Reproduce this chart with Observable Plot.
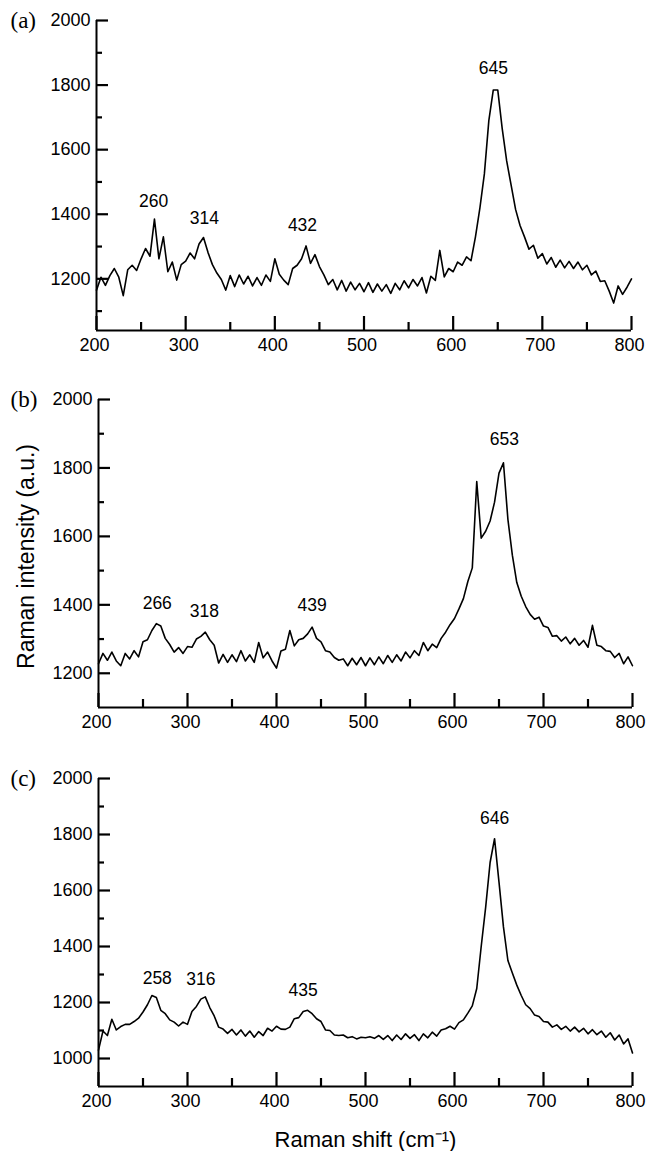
<!DOCTYPE html>
<html><head><meta charset="utf-8">
<script src="https://cdn.jsdelivr.net/npm/d3@7"></script>
<script src="https://cdn.jsdelivr.net/npm/@observablehq/plot@0.6"></script>
<style>
body{margin:0;background:#fff;width:647px;height:1151px;position:relative;overflow:hidden}
.p{position:absolute;left:0}
</style></head><body>
<div id="a" class="p" style="top:0"></div>
<div id="b" class="p" style="top:379px"></div>
<div id="c" class="p" style="top:758px"></div>
<script>
// Raman shift sampling (cm^-1)
const shift = [200,205,210,215,220,225,230,235,240,245,250,255,260,265,270,275,280,285,290,295,300,305,310,315,320,325,330,335,340,345,350,355,360,365,370,375,380,385,390,395,400,405,410,415,420,425,430,435,440,445,450,455,460,465,470,475,480,485,490,495,500,505,510,515,520,525,530,535,540,545,550,555,560,565,570,575,580,585,590,595,600,605,610,615,620,625,630,635,640,645,650,655,660,665,670,675,680,685,690,695,700,705,710,715,720,725,730,735,740,745,750,755,760,765,770,775,780,785,790,795,800];

// Raman intensity (a.u.), panel (a)
const intensityA = [
1165,1205,1180,1210,1232,1205,1148,1228,1242,1226,
1262,1294,1270,1385,1262,1330,1222,1252,1196,1244,
1255,1280,1262,1308,1328,1282,1244,1218,1198,1165,
1210,1176,1212,1184,1208,1178,1204,1180,1212,1192,
1262,1214,1196,1182,1232,1242,1262,1302,1248,1275,
1238,1212,1182,1198,1166,1195,1162,1190,1166,1186,
1160,1188,1158,1184,1162,1182,1155,1186,1166,1194,
1172,1198,1178,1204,1156,1208,1195,1288,1206,1232,
1222,1252,1242,1268,1256,1330,1420,1525,1690,1785,
1785,1665,1565,1490,1415,1365,1330,1292,1304,1264,
1278,1246,1266,1236,1258,1234,1254,1232,1252,1228,
1242,1212,1224,1192,1194,1162,1125,1178,1152,1174,
1200];

// panel (b)
const intensityB = [
1228,1258,1238,1262,1236,1222,1258,1242,1266,1248,
1292,1298,1325,1345,1338,1302,1284,1262,1275,1258,
1278,1276,1300,1308,1320,1298,1282,1230,1255,1232,
1254,1234,1266,1236,1254,1232,1290,1245,1262,1236,
1215,1265,1270,1325,1280,1298,1302,1315,1335,1302,
1292,1266,1262,1246,1238,1242,1222,1244,1225,1246,
1222,1245,1225,1248,1228,1252,1232,1254,1236,1262,
1245,1266,1252,1290,1266,1285,1275,1302,1320,1342,
1360,1388,1418,1468,1508,1760,1595,1615,1645,1700,
1785,1815,1650,1545,1465,1425,1395,1372,1358,1364,
1338,1334,1308,1310,1294,1306,1286,1302,1282,1296,
1276,1340,1282,1278,1266,1264,1246,1258,1228,1248,
1222];

// panel (c)
const intensityC = [
1030,1098,1082,1140,1102,1114,1122,1122,1132,1144,
1166,1192,1225,1218,1172,1160,1138,1130,1116,1130,
1122,1168,1186,1212,1220,1182,1152,1112,1105,1090,
1104,1084,1102,1080,1098,1076,1096,1082,1108,1098,
1115,1105,1104,1112,1142,1146,1168,1172,1160,1142,
1132,1102,1100,1084,1082,1084,1074,1078,1070,1076,
1074,1078,1072,1082,1068,1082,1064,1084,1068,1088,
1072,1085,1064,1088,1074,1094,1080,1102,1106,1115,
1105,1128,1138,1162,1188,1250,1400,1540,1700,1785,
1630,1470,1350,1305,1262,1225,1192,1178,1155,1150,
1132,1130,1112,1120,1104,1115,1098,1112,1095,1108,
1088,1103,1085,1098,1076,1092,1066,1084,1052,1070,
1020];

// peak annotations
const peaksA = ["260","314","432","645"];
const peakShiftA = [264,321,431,645];
const peakLevelA = [1439,1386,1364,1852];
const peaksB = ["266","318","439","653"];
const peakShiftB = [266,319,440,656];
const peakLevelB = [1405,1382,1399,1883];
const peaksC = ["258","316","435","646"];
const peakShiftC = [266,315,430,645];
const peakLevelC = [1285,1282,1243,1857];

// ticks
const xMajor = [200,300,400,500,600,700,800];
const xMinor = [250,350,450,550,650,750];
const yMajorA = [1200,1400,1600,1800,2000];
const yMinorA = [1100,1300,1500,1700,1900];
const yMajorB = [1200,1400,1600,1800,2000];
const yMinorB = [1300,1500,1700,1900];
const yMajorC = [1000,1200,1400,1600,1800,2000];
const yMinorC = [1100,1300,1500,1700,1900];

const SANS = "'Liberation Sans', Arial, sans-serif";

function panel(o) {
  const W = 647;
  const frameW = W - o.ml - o.mr;
  const frameH = o.h - o.mt - o.mb;
  // inward tick lengths (px) expressed in data units through the scale extents
  const perPxY = (2000 - o.lo) / frameH;
  const perPxX = (800 - 200) / frameW;
  const xTickRows = [
    ...xMajor.map(v => ({x: v, y1: o.lo, y2: o.lo + 14 * perPxY})),
    ...xMinor.map(v => ({x: v, y1: o.lo, y2: o.lo + 8 * perPxY}))
  ];
  const yTickRows = [
    ...o.yMajor.map(v => ({y: v, x1: 200, x2: 200 + 12 * perPxX})),
    ...o.yMinor.map(v => ({y: v, x1: 200, x2: 200 + 6 * perPxX}))
  ];
  return Plot.plot({
    width: W, height: o.h,
    marginLeft: o.ml, marginRight: o.mr, marginTop: o.mt, marginBottom: o.mb,
    x: {domain: [200, 800]},
    y: {domain: [o.lo, 2000]},
    style: {fontFamily: SANS, fontSize: "18px", color: "#000", background: "#fff", overflow: "visible"},
    marks: [
      Plot.line(o.values, {x: shift, y: o.values, stroke: "#000", strokeWidth: 1.6}),
      Plot.ruleX([200], {stroke: "#000", strokeWidth: 2}),
      Plot.ruleY([o.lo], {stroke: "#000", strokeWidth: 2}),
      Plot.ruleX(xTickRows, {x: "x", y1: "y1", y2: "y2", stroke: "#000", strokeWidth: 2.2}),
      Plot.ruleY(yTickRows, {y: "y", x1: "x1", x2: "x2", stroke: "#000", strokeWidth: 2.2}),
      Plot.axisX({ticks: xMajor, tickSize: 0, tickPadding: 8, tickFormat: "d", label: null, fontSize: 18, dx: -2}),
      Plot.axisY({ticks: o.yMajor, tickSize: 0, tickPadding: 6, tickFormat: "d", label: null, fontSize: 18}),
      Plot.text(o.peaks, {x: o.peakX, y: o.peakY, text: d => d, fontSize: 17.5, lineAnchor: "middle", textAnchor: "middle"}),
      Plot.text([o.tag], {frameAnchor: "top-left", dx: -(o.ml - 10), textAnchor: "start", lineAnchor: "middle",
        fontFamily: "'Liberation Serif', 'Times New Roman', serif", fontSize: 23}),
      ...(o.extra || [])
    ]
  });
}

document.getElementById("a").append(panel({
  values: intensityA, lo: 1040, yMajor: yMajorA, yMinor: yMinorA,
  peaks: peaksA, peakX: peakShiftA, peakY: peakLevelA, tag: "(a)",
  ml: 96, mr: 16, mt: 20, mb: 39, h: 369
}));

document.getElementById("b").append(panel({
  values: intensityB, lo: 1100, yMajor: yMajorB, yMinor: yMinorB,
  peaks: peaksB, peakX: peakShiftB, peakY: peakLevelB, tag: "(b)",
  ml: 98, mr: 15, mt: 20, mb: 41, h: 369,
  extra: [Plot.text(["Raman intensity (a.u.)"], {frameAnchor: "left", rotate: -90, dx: -72, dy: 3,
    fontSize: 23, textAnchor: "middle", lineAnchor: "middle"})]
}));

document.getElementById("c").append(panel({
  values: intensityC, lo: 900, yMajor: yMajorC, yMinor: yMinorC,
  peaks: peaksC, peakX: peakShiftC, peakY: peakLevelC, tag: "(c)",
  ml: 98, mr: 15, mt: 20, mb: 65, h: 393,
  extra: [Plot.text(["Raman shift (cm⁻¹)"], {frameAnchor: "bottom", dy: 53,
    fontSize: 22, textAnchor: "middle", lineAnchor: "middle"})]
}));
</script></body></html>
